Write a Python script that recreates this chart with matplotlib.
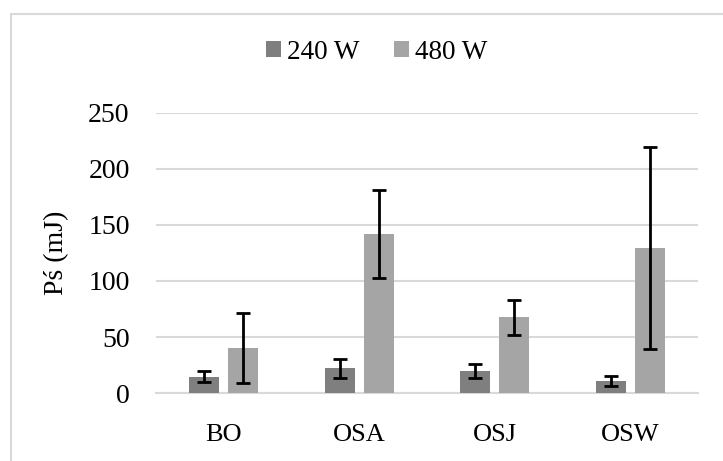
import numpy as np
import matplotlib
matplotlib.use("Agg")
from matplotlib import pyplot as plt
from matplotlib.patches import Rectangle

categories = ["BO", "OSA", "OSJ", "OSW"]
series_names = ["240 W", "480 W"]
values_240 = [14.5, 22, 20, 11]
errors_240 = [5, 8.5, 6.3, 4.5]
values_480 = [40, 142, 67.5, 129.5]
errors_480 = [31, 39, 15.5, 90]
y_ticks = [0, 50, 100, 150, 200, 250]

plt.rcParams['font.family'] = ['Liberation Serif', 'DejaVu Serif']

fig = plt.figure(figsize=(7.23, 4.61), dpi=100)
ax = fig.add_axes([0.2158, 0.1475, 0.7496, 0.6074])

# chart border (cropped at right and bottom)
fig.patches.append(Rectangle((11 / 723, -0.1), 2.0, 1 - 14 / 461 + 0.1, transform=fig.transFigure,
                             fill=False, edgecolor="#d9d9d9", linewidth=1.5))

x = np.arange(len(categories))
width = 0.22
offset = 0.144
err_style = dict(ecolor="black", elinewidth=2, capsize=5, capthick=2)
ax.bar(x - offset, values_240, width, color="#7f7f7f", label=series_names[0],
       yerr=errors_240, error_kw=err_style, zorder=3)
ax.bar(x + offset, values_480, width, color="#a5a5a5", label=series_names[1],
       yerr=errors_480, error_kw=err_style, zorder=3)

ax.set_xlim(-0.5, len(categories) - 0.5)
ax.set_ylim(0, 250)
ax.set_yticks(y_ticks)
ax.yaxis.grid(True, color="#d9d9d9", linewidth=1.5, zorder=0)
ax.set_axisbelow(True)
for s in ["top", "right", "left"]:
    ax.spines[s].set_visible(False)
ax.spines["bottom"].set_color("#d9d9d9")
ax.spines["bottom"].set_linewidth(1.5)
ax.tick_params(length=0, colors="black")
ax.tick_params(axis="y", pad=19, labelsize=20)
ax.tick_params(axis="x", pad=22, labelsize=19)
ax.set_xticks(x)
ax.set_xticklabels(categories)
ax.set_ylabel("Pś (mJ)", fontsize=20, labelpad=14)

fig.legend(loc="center", bbox_to_anchor=(0.521, 0.887), ncol=2, frameon=False,
           fontsize=19.5, handlelength=0.55, handleheight=0.55, handletextpad=0.2,
           columnspacing=1.3)

fig.savefig("out.png", dpi=100)
